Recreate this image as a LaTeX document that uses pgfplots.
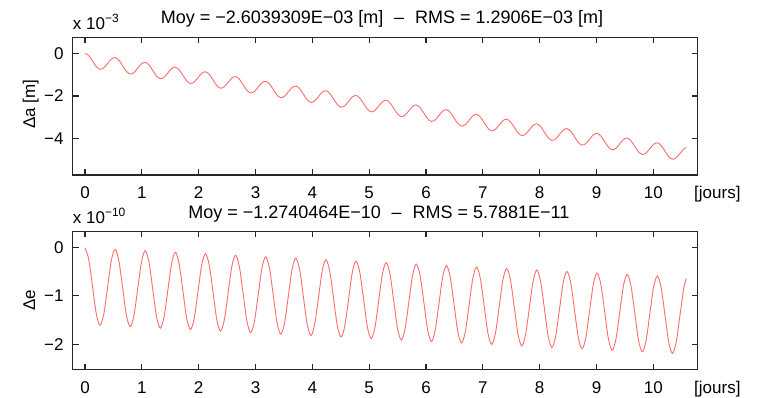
\documentclass[border=0pt]{standalone}
\usepackage{fontspec}
\setmainfont{Liberation Sans}
\usepackage{pgfplots}
\usepackage{pgfplotstable}
\pgfplotsset{compat=1.18}
\definecolor{axgray}{rgb}{0.15,0.15,0.15}
\definecolor{curve}{rgb}{1,0.42,0.42}

\pgfplotstableread{
x a e
0.000 0.000 0.000
0.066 -0.102 -0.239
0.133 -0.364 -0.805
0.199 -0.625 -1.370
0.265 -0.749 -1.606
0.331 -0.680 -1.378
0.398 -0.474 -0.820
0.464 -0.269 -0.263
0.530 -0.200 -0.034
0.596 -0.324 -0.270
0.663 -0.585 -0.835
0.729 -0.846 -1.401
0.795 -0.971 -1.637
0.861 -0.902 -1.408
0.928 -0.696 -0.851
0.994 -0.491 -0.293
1.060 -0.422 -0.064
1.126 -0.546 -0.301
1.193 -0.807 -0.866
1.259 -1.068 -1.431
1.325 -1.193 -1.668
1.391 -1.124 -1.439
1.458 -0.918 -0.881
1.524 -0.712 -0.324
1.590 -0.643 -0.095
1.656 -0.768 -0.332
1.723 -1.029 -0.897
1.789 -1.290 -1.462
1.855 -1.414 -1.698
1.921 -1.345 -1.470
1.988 -1.140 -0.912
2.054 -0.934 -0.355
2.120 -0.865 -0.126
2.186 -0.990 -0.362
2.253 -1.251 -0.927
2.319 -1.512 -1.493
2.385 -1.636 -1.729
2.451 -1.567 -1.500
2.518 -1.362 -0.943
2.584 -1.156 -0.385
2.650 -1.087 -0.156
2.716 -1.211 -0.393
2.783 -1.473 -0.958
2.849 -1.734 -1.523
2.915 -1.858 -1.760
2.981 -1.789 -1.531
3.048 -1.583 -0.973
3.114 -1.378 -0.416
3.180 -1.309 -0.187
3.246 -1.433 -0.424
3.313 -1.694 -0.989
3.379 -1.955 -1.554
3.445 -2.080 -1.790
3.511 -2.011 -1.562
3.578 -1.805 -1.004
3.644 -1.600 -0.447
3.710 -1.531 -0.218
3.776 -1.655 -0.454
3.843 -1.916 -1.020
3.909 -2.177 -1.585
3.975 -2.302 -1.821
4.041 -2.233 -1.592
4.108 -2.027 -1.035
4.174 -1.821 -0.477
4.240 -1.752 -0.249
4.306 -1.877 -0.485
4.373 -2.138 -1.050
4.439 -2.399 -1.615
4.505 -2.523 -1.852
4.571 -2.454 -1.623
4.638 -2.249 -1.066
4.704 -2.043 -0.508
4.770 -1.974 -0.279
4.836 -2.099 -0.516
4.903 -2.360 -1.081
4.969 -2.621 -1.646
5.035 -2.745 -1.883
5.101 -2.676 -1.654
5.168 -2.471 -1.096
5.234 -2.265 -0.539
5.300 -2.196 -0.310
5.366 -2.320 -0.546
5.433 -2.582 -1.112
5.499 -2.843 -1.677
5.565 -2.967 -1.913
5.631 -2.898 -1.685
5.698 -2.692 -1.127
5.764 -2.487 -0.569
5.830 -2.418 -0.341
5.896 -2.542 -0.577
5.963 -2.803 -1.142
6.029 -3.064 -1.708
6.095 -3.189 -1.944
6.161 -3.120 -1.715
6.228 -2.914 -1.158
6.294 -2.709 -0.600
6.360 -2.640 -0.371
6.426 -2.764 -0.608
6.493 -3.025 -1.173
6.559 -3.286 -1.738
6.625 -3.411 -1.975
6.691 -3.342 -1.746
6.758 -3.136 -1.188
6.824 -2.930 -0.631
6.890 -2.861 -0.402
6.956 -2.986 -0.638
7.023 -3.247 -1.204
7.089 -3.508 -1.769
7.155 -3.632 -2.005
7.221 -3.563 -1.777
7.288 -3.358 -1.219
7.354 -3.152 -0.661
7.420 -3.083 -0.433
7.486 -3.208 -0.669
7.553 -3.469 -1.234
7.619 -3.730 -1.800
7.685 -3.854 -2.036
7.751 -3.785 -1.807
7.818 -3.580 -1.250
7.884 -3.374 -0.692
7.950 -3.305 -0.463
8.016 -3.429 -0.700
8.083 -3.691 -1.265
8.149 -3.952 -1.830
8.215 -4.076 -2.067
8.281 -4.007 -1.838
8.348 -3.801 -1.280
8.414 -3.596 -0.723
8.480 -3.527 -0.494
8.546 -3.651 -0.730
8.613 -3.912 -1.296
8.679 -4.173 -1.861
8.745 -4.298 -2.097
8.811 -4.229 -1.869
8.878 -4.023 -1.311
8.944 -3.818 -0.754
9.010 -3.749 -0.525
9.076 -3.873 -0.761
9.143 -4.134 -1.326
9.209 -4.395 -1.892
9.275 -4.520 -2.128
9.341 -4.451 -1.899
9.408 -4.245 -1.342
9.474 -4.039 -0.784
9.540 -3.970 -0.555
9.606 -4.095 -0.792
9.673 -4.356 -1.357
9.739 -4.617 -1.922
9.805 -4.741 -2.159
9.871 -4.672 -1.930
9.938 -4.467 -1.372
10.004 -4.261 -0.815
10.070 -4.192 -0.586
10.136 -4.317 -0.822
10.203 -4.578 -1.388
10.269 -4.839 -1.953
10.335 -4.963 -2.189
10.401 -4.894 -1.961
10.468 -4.689 -1.403
10.534 -4.483 -0.846
10.580 -4.415 -0.638
}\data

\begin{document}
\begin{tikzpicture}[x=1pt,y=1pt]
\useasboundingbox (0,0) rectangle (760,397);
\pgfplotsset{
  myax/.style={
    scale only axis, anchor=south west, width=625pt,
    xmin=-0.216, xmax=10.78,
    xtick={0,1,2,3,4,5,6,7,8,9,10},
    xticklabels={0,1,2,3,4,5,6,7,8,9,10},
    axis line style={line width=1.3pt, color=axgray},
    major tick style={line width=1.1pt, color=axgray},
    major tick length=6pt, tick align=inside,
    xticklabel style={anchor=base, inner sep=0pt, yshift=-23.3pt, font=\fontsize{17}{17}\selectfont},
    yticklabel style={anchor=east, inner sep=0pt, xshift=-9pt, font=\fontsize{17}{17}\selectfont},
  }
}
\begin{axis}[myax, at={(72.7pt,222pt)}, height=137.7pt,
  ymin=-5.70, ymax=0.75, ytick={-4,-2,0}, yticklabels={−4,−2,0}]
\addplot[curve, line width=0.9pt, smooth, no markers] table[x=x,y=a]{\data};
\end{axis}
\begin{axis}[myax, at={(72.7pt,27.3pt)}, height=138.4pt,
  ymin=-2.53, ymax=0.34, ytick={-2,-1,0}, yticklabels={−2,−1,0}]
\addplot[curve, line width=0.9pt, smooth, no markers] table[x=x,y=e]{\data};
\end{axis}
% texts
\node[anchor=base, inner sep=0pt, font=\fontsize{18}{18}\selectfont] at (382,373.7)
  {Moy = −2.6039309E−03 [m]\hspace{0.6em}–\hspace{0.6em}RMS = 1.2906E−03 [m]};
\node[anchor=base, inner sep=0pt, font=\fontsize{18}{18}\selectfont] at (378.8,178.3)
  {Moy = −1.2740464E−10\hspace{0.6em}–\hspace{0.6em}RMS = 5.7881E−11};
\node[anchor=base west, inner sep=0pt, font=\fontsize{17}{17}\selectfont] at (72.7,367)
  {x 10\raisebox{7pt}{\fontsize{12}{12}\selectfont −3}};
\node[anchor=base west, inner sep=0pt, font=\fontsize{17}{17}\selectfont] at (72.7,173.3)
  {x 10\raisebox{7pt}{\fontsize{12}{12}\selectfont −10}};
\node[rotate=90, anchor=base, inner sep=0pt, font=\fontsize{17}{17}\selectfont] at (35,293) {Δa [m]};
\node[rotate=90, anchor=base, inner sep=0pt, font=\fontsize{17}{17}\selectfont] at (35,96.5) {Δe};
\node[anchor=base west, inner sep=0pt, font=\fontsize{17}{17}\selectfont] at (694,198.7) {[jours]};
\node[anchor=base west, inner sep=0pt, font=\fontsize{17}{17}\selectfont] at (694,4.0) {[jours]};
\end{tikzpicture}
\end{document}
